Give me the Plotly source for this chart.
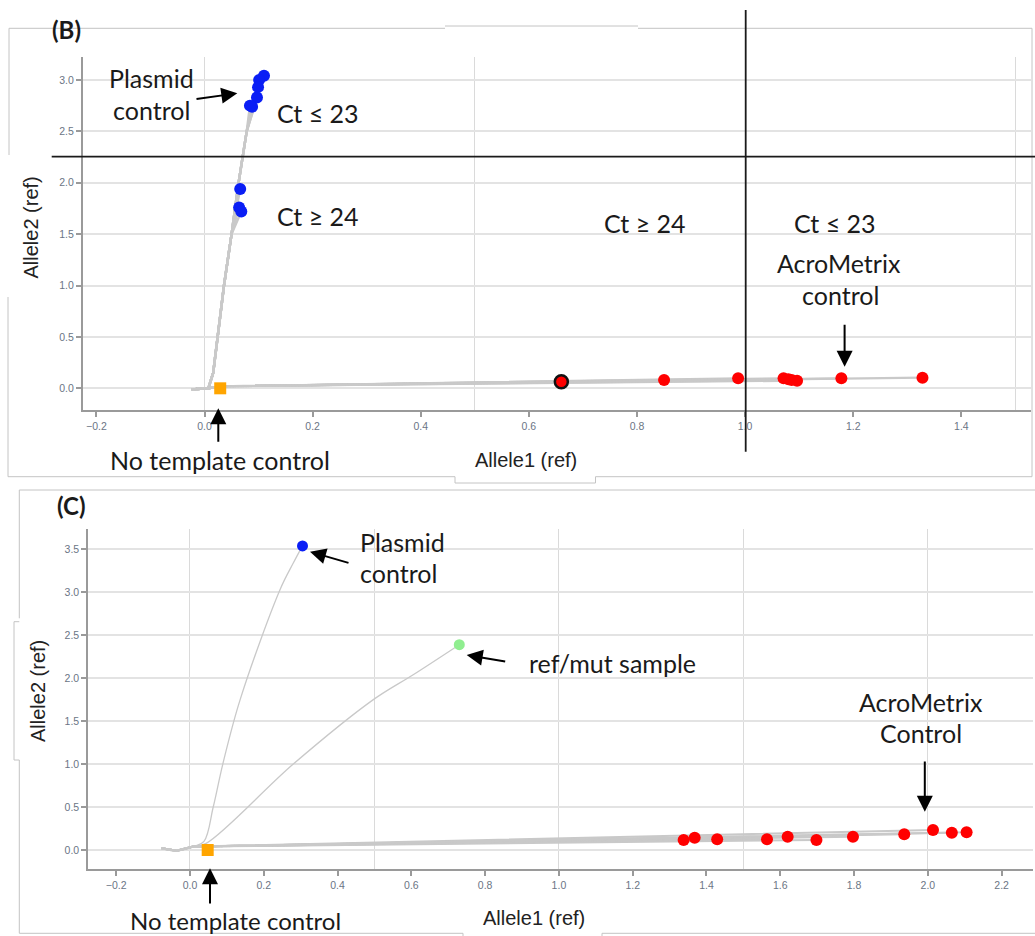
import plotly.graph_objects as go

# ---------------- data: panel (B) ----------------
b_plasmid_x = [0.110, 0.101, 0.099, 0.097, 0.088, 0.084, 0.066, 0.064, 0.068]
b_plasmid_y = [3.04, 3.00, 2.93, 2.83, 2.74, 2.75, 1.94, 1.76, 1.72]
b_acro_x = [0.660, 0.850, 0.987, 1.071, 1.080, 1.086, 1.096, 1.178, 1.328]
b_acro_y = [0.064, 0.081, 0.097, 0.097, 0.088, 0.081, 0.074, 0.097, 0.103]
b_ntc_x = [0.029]
b_ntc_y = [0.0]
# trajectory vertices
b_start_x = [-0.024, 0.007]
b_start_y = [-0.01, 0.0]
b_rise_x = [0.016, 0.026, 0.036, 0.050, 0.063, 0.078]
b_rise_y = [0.15, 0.57, 1.00, 1.50, 2.00, 2.50]
b_flat_x = [0.030]
b_flat_y = [0.02]

# ---------------- data: panel (C) ----------------
c_plasmid_x = [0.305]
c_plasmid_y = [3.54]
c_refmut_x = [0.730]
c_refmut_y = [2.39]
c_acro_x = [1.338, 1.368, 1.429, 1.564, 1.620, 1.698, 1.797, 1.936, 2.014, 2.065, 2.105]
c_acro_y = [0.116, 0.143, 0.125, 0.125, 0.155, 0.116, 0.155, 0.183, 0.233, 0.201, 0.206]
c_ntc_x = [0.048]
c_ntc_y = [0.0]
c_start_x = [-0.077, -0.036, 0.009]
c_start_y = [0.02, -0.01, 0.04]
c_plasmid_path_x = [0.038, 0.063, 0.089, 0.136, 0.244, 0.280]
c_plasmid_path_y = [0.10, 0.50, 1.00, 1.75, 3.03, 3.34]
c_refmut_path_x = [0.045, 0.280, 0.497, 0.605]
c_refmut_path_y = [0.08, 1.00, 1.75, 2.04]

# ---------------- styling ----------------
W, H = 1035, 936
TRAJ = "#c9c9c9"
TICKC = "#6b7585"
ANN_FONT = "Lato"
AX_FONT = "Liberation Sans"
ANN_SIZE = 25

fig = go.Figure()

# ---- panel B trajectories ----
for ex, ey in zip(b_plasmid_x, b_plasmid_y):
    xs = list(b_start_x) + [x for x, y in zip(b_rise_x, b_rise_y) if y < ey - 0.1] + [ex]
    ys = list(b_start_y) + [y for y in b_rise_y if y < ey - 0.1] + [ey]
    fig.add_trace(go.Scatter(x=xs, y=ys, mode="lines", line=dict(color=TRAJ, width=2.4),
                             xaxis="x", yaxis="y", showlegend=False, hoverinfo="skip"))
for ex, ey in zip(b_acro_x, b_acro_y):
    xs = list(b_start_x) + b_flat_x + [ex]
    ys = list(b_start_y) + b_flat_y + [ey]
    fig.add_trace(go.Scatter(x=xs, y=ys, mode="lines", line=dict(color=TRAJ, width=2.2),
                             xaxis="x", yaxis="y", showlegend=False, hoverinfo="skip"))

# ---- panel B markers ----
fig.add_trace(go.Scatter(x=b_plasmid_x, y=b_plasmid_y, mode="markers",
                         marker=dict(color="#0a1ef5", size=12), xaxis="x", yaxis="y", showlegend=False))
fig.add_trace(go.Scatter(x=b_acro_x[1:], y=b_acro_y[1:], mode="markers",
                         marker=dict(color="#ff0000", size=12), xaxis="x", yaxis="y", showlegend=False))
fig.add_trace(go.Scatter(x=b_acro_x[:1], y=b_acro_y[:1], mode="markers",
                         marker=dict(color="#ff0000", size=13, line=dict(color="#111111", width=2.5)),
                         xaxis="x", yaxis="y", showlegend=False))
fig.add_trace(go.Scatter(x=b_ntc_x, y=b_ntc_y, mode="markers",
                         marker=dict(color="#ffa500", size=12, symbol="square"),
                         xaxis="x", yaxis="y", showlegend=False))

# ---- panel C trajectories ----
for ex, ey in zip(c_acro_x, c_acro_y):
    fig.add_trace(go.Scatter(x=c_start_x + [ex], y=c_start_y + [ey], mode="lines",
                             line=dict(color=TRAJ, width=2), xaxis="x2", yaxis="y2",
                             showlegend=False, hoverinfo="skip"))
fig.add_trace(go.Scatter(x=c_start_x + c_plasmid_path_x + c_plasmid_x,
                         y=c_start_y + c_plasmid_path_y + c_plasmid_y, mode="lines",
                         line=dict(color=TRAJ, width=1.3, shape="spline"), xaxis="x2", yaxis="y2",
                         showlegend=False, hoverinfo="skip"))
fig.add_trace(go.Scatter(x=c_start_x + c_refmut_path_x + c_refmut_x,
                         y=c_start_y + c_refmut_path_y + c_refmut_y, mode="lines",
                         line=dict(color=TRAJ, width=1.3, shape="spline"), xaxis="x2", yaxis="y2",
                         showlegend=False, hoverinfo="skip"))

# ---- panel C markers ----
fig.add_trace(go.Scatter(x=c_plasmid_x, y=c_plasmid_y, mode="markers",
                         marker=dict(color="#0a1ef5", size=11), xaxis="x2", yaxis="y2", showlegend=False))
fig.add_trace(go.Scatter(x=c_refmut_x, y=c_refmut_y, mode="markers",
                         marker=dict(color="#90ee90", size=11), xaxis="x2", yaxis="y2", showlegend=False))
fig.add_trace(go.Scatter(x=c_acro_x, y=c_acro_y, mode="markers",
                         marker=dict(color="#ff0000", size=12), xaxis="x2", yaxis="y2", showlegend=False))
fig.add_trace(go.Scatter(x=c_ntc_x, y=c_ntc_y, mode="markers",
                         marker=dict(color="#ffa500", size=12, symbol="square"),
                         xaxis="x2", yaxis="y2", showlegend=False))

# dummy traces so the tick-label overlay axes exist
fig.add_trace(go.Scatter(x=[], y=[], xaxis="x3", yaxis="y", showlegend=False))
fig.add_trace(go.Scatter(x=[], y=[], xaxis="x4", yaxis="y2", showlegend=False))


def px(x):
    return x / W


def py(y):
    return 1 - y / H


b_xr = [-0.2248, 1.528]
b_yr = [-0.211, 3.226]
c_xr = [-0.2756, 2.285]
c_yr = [-0.225, 3.733]

grid_x = dict(showgrid=True, gridcolor="#dadada", gridwidth=1, dtick=0.5, tick0=0,
              showticklabels=False, ticks="", zeroline=False, showline=True,
              linecolor="#9a9a9a", linewidth=2)
lab_x = dict(showgrid=False, dtick=0.2, tick0=0, ticks="outside", ticklen=6, tickwidth=1.5,
             tickcolor="#9a9a9a", tickfont=dict(family=AX_FONT, size=10.5, color=TICKC),
             tickformat=".1f", zeroline=False, showline=False)
yax = dict(showgrid=True, gridcolor="#e3e3e3", gridwidth=2, dtick=0.5, tick0=0, ticks="outside",
           ticklen=5, tickwidth=1.5, tickcolor="#9a9a9a",
           tickfont=dict(family=AX_FONT, size=10.5, color=TICKC), tickformat=".1f",
           zeroline=False, showline=True, linecolor="#9a9a9a", linewidth=2)

fig.update_layout(
    width=W, height=H, autosize=False, margin=dict(l=0, r=0, t=0, b=0),
    paper_bgcolor="white", plot_bgcolor="white", showlegend=False,
    xaxis=dict(domain=[px(83), px(1030.6)], range=b_xr, anchor="y", **grid_x),
    yaxis=dict(domain=[py(410), py(56.7)], range=b_yr, anchor="x", **yax),
    xaxis3=dict(overlaying="x", anchor="y", range=b_xr, **lab_x),
    xaxis2=dict(domain=[px(88.3), px(1033)], range=c_xr, anchor="y2", **grid_x),
    yaxis2=dict(domain=[py(869.3), py(529.3)], range=c_yr, anchor="x2", **yax),
    xaxis4=dict(overlaying="x2", anchor="y2", range=c_xr, **lab_x),
)

ann = []


def text(t, x, y, size=ANN_SIZE, bold=False, family=ANN_FONT, anchor="center", color="#1a1a1a", angle=0):
    ann.append(dict(text=("<b>%s</b>" % t) if bold else t, x=px(x), y=py(y), xref="paper", yref="paper",
                    showarrow=False, xanchor=anchor, yanchor="middle", textangle=angle,
                    font=dict(family=family, size=size, color=color)))


def arrow(hx, hy, tx, ty):
    ann.append(dict(text="", x=px(hx), y=py(hy), xref="paper", yref="paper", showarrow=True,
                    ax=tx - hx, ay=ty - hy, axref="pixel", ayref="pixel", arrowhead=2,
                    arrowsize=1.6, arrowwidth=2, arrowcolor="#000000", standoff=0))


# panel B texts
text("(B)", 66.7, 30, size=24, bold=True)
text("Plasmid", 151.7, 78.3)
text("control", 151.7, 110)
text("Ct ≤ 23", 318, 113.3)
text("Ct ≥ 24", 318, 216)
text("Ct ≥ 24", 645, 222.7)
text("Ct ≤ 23", 834.7, 222.7)
text("AcroMetrix", 838.6, 263.3)
text("control", 840.7, 295)
text("No template control", 220, 460)
text("Allele1 (ref)", 526, 460, size=20, family=AX_FONT, color="#222222")
text("Allele2 (ref)", 30, 227.5, size=20, family=AX_FONT, color="#222222", angle=-90)
arrow(237.3, 93.3, 195, 99.3)
arrow(844.6, 366.7, 844.6, 323.3)
arrow(218.3, 408.3, 218.3, 443.3)

# panel C texts
text("(C)", 71.7, 505, size=24, bold=True)
text("Plasmid", 358, 541.7, anchor="left")
text("control", 358, 573.3, anchor="left")
text("ref/mut sample", 527.3, 663.3, anchor="left")
text("AcroMetrix", 920.5, 701.7)
text("Control", 920.5, 733.3)
text("No template control", 235, 920.5, size=24)
text("Allele1 (ref)", 533.5, 918, size=20, family=AX_FONT, color="#222222")
text("Allele2 (ref)", 38, 691, size=20, family=AX_FONT, color="#222222", angle=-90)
arrow(310, 551.7, 350, 563.3)
arrow(466.7, 655, 506.7, 661.7)
arrow(924.8, 811.7, 924.8, 760)
arrow(210, 868.3, 210, 905)

fig.update_layout(annotations=ann)

shapes = []


def seg(x0, y0, x1, y1, color="#c4c4c4", width=1):
    shapes.append(dict(type="line", xref="paper", yref="paper", x0=px(x0), y0=py(y0),
                       x1=px(x1), y1=py(y1), line=dict(color=color, width=width), layer="above"))


# light frame lines of the composed screenshot panels
seg(9, 28.3, 445, 28.3)
seg(445, 26, 638, 26)
seg(638, 28.3, 1032, 28.3)
seg(1032, 28.3, 1032, 476.7)
seg(9, 28.3, 9, 155)
seg(8, 297, 8, 476.7)
seg(8, 476.7, 455, 476.7)
seg(455, 476.7, 455, 483)
seg(455, 483, 595.5, 483)
seg(595.5, 483, 595.5, 476.7)
seg(595.5, 476.7, 1032, 476.7)
seg(19.3, 490, 1035, 490)
seg(19.3, 490, 19.3, 618.3)
seg(14, 621.7, 19.3, 621.7)
seg(14, 621.7, 14, 760)
seg(14, 760, 19.3, 760)
seg(19.3, 760, 19.3, 933.3)
seg(19.3, 933.3, 463, 933.3)
seg(463, 933.3, 463, 936)
seg(602, 936, 602, 933.3)
seg(602, 933.3, 1035, 933.3)

# black quadrant lines of panel B
seg(51.7, 156.7, 1035, 156.7, color="#1a1a1a", width=1.8)
seg(745.7, 10, 745.7, 451.7, color="#1a1a1a", width=1.8)

fig.update_layout(shapes=shapes)

fig.write_html("out.html", config={"displayModeBar": False},
               post_script="document.body.style.margin='0';document.body.style.overflow='hidden';")
